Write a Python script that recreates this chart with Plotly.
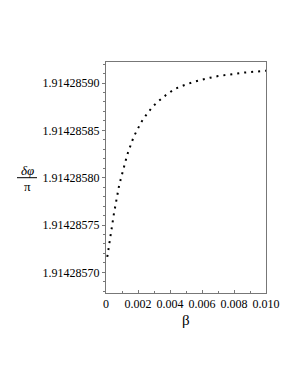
import plotly.graph_objects as go

# beta values (x) and delta-phi/pi values (y)
beta = [0.00008, 0.0002, 0.0003, 0.0004, 0.0005, 0.0006, 0.0007, 0.0008, 0.0009,
        0.0010, 0.0011, 0.0012, 0.0013, 0.0014, 0.0015, 0.0016, 0.0017, 0.0018,
        0.0019, 0.0020, 0.0022, 0.0024, 0.0026, 0.0028, 0.0030, 0.00325, 0.0035,
        0.00375, 0.0040, 0.00425, 0.0045, 0.00475, 0.0050, 0.0055, 0.0060,
        0.0065, 0.0070, 0.0075, 0.0080, 0.0085, 0.0090, 0.0095, 0.0100]
dphi_over_pi = [1.9142857163, 1.9142857280, 1.9142857395, 1.9142857515,
                1.9142857625, 1.9142857725, 1.9142857825, 1.9142857900,
                1.9142857970, 1.9142858040, 1.9142858110, 1.9142858170,
                1.9142858225, 1.9142858278, 1.9142858330, 1.9142858378,
                1.9142858417, 1.9142858455, 1.9142858490, 1.9142858522,
                1.9142858585, 1.9142858638, 1.9142858685, 1.9142858726,
                1.9142858765, 1.9142858805, 1.9142858840, 1.9142858873,
                1.9142858905, 1.9142858932, 1.9142858952, 1.9142858970,
                1.9142858985, 1.9142859013, 1.9142859038, 1.9142859056,
                1.9142859073, 1.9142859087, 1.9142859098, 1.9142859108,
                1.9142859115, 1.9142859122, 1.9142859130]

x_tickvals = [0, 0.002, 0.004, 0.006, 0.008, 0.010]
x_ticktext = ["0", "0.002", "0.004", "0.006", "0.008", "0.010"]

serif = "Liberation Serif"
axis_col = "#777777"

fig = go.Figure()
fig.add_trace(go.Scatter(
    x=beta, y=dphi_over_pi, mode="lines",
    line=dict(color="black", width=2, dash="2px,5px"),
    showlegend=False, hoverinfo="skip",
))

fig.update_layout(
    width=300, height=388,
    margin=dict(l=98, r=42, t=54, b=103),
    paper_bgcolor="white", plot_bgcolor="white",
    font=dict(family=serif, size=12, color="black"),
    xaxis=dict(
        range=[0, 0.010], showgrid=False, zeroline=False,
        tickvals=x_tickvals, ticktext=x_ticktext,
        ticks="inside", ticklen=3, tickcolor=axis_col, tickwidth=1,
        minor=dict(dtick=0.001, ticks="inside", ticklen=2, tickcolor=axis_col),
        showline=True, linecolor=axis_col, linewidth=1, mirror=True,
        tickfont=dict(family=serif, size=12),
    ),
    yaxis=dict(
        range=[1.9142856782, 1.9142859222], showgrid=False, zeroline=False,
        tick0=1.9142857, dtick=5e-8, tickformat=".8f",
        ticks="outside", ticklen=3, tickcolor=axis_col, tickwidth=1,
        minor=dict(dtick=1e-8, ticks="outside", ticklen=2, tickcolor=axis_col),
        showline=True, linecolor=axis_col, linewidth=1, mirror=True,
        tickfont=dict(family=serif, size=12),
    ),
    annotations=[
        dict(text="β", xref="paper", yref="paper", x=(186 - 106) / 160,
             y=(293 - 320) / 231,
             xanchor="center", yanchor="middle", showarrow=False,
             font=dict(family=serif, size=15)),
        dict(text="<i>δφ</i>", xref="paper", yref="paper",
             x=(27 - 106) / 160, y=(293 - 170.5) / 231, xanchor="center",
             yanchor="middle", showarrow=False,
             font=dict(family=serif, size=13)),
        dict(text="π", xref="paper", yref="paper",
             x=(27 - 106) / 160, y=(293 - 186) / 231, xanchor="center",
             yanchor="middle", showarrow=False,
             font=dict(family=serif, size=13)),
    ],
    shapes=[
        dict(type="line", xref="paper", yref="paper",
             x0=(17 - 106) / 160, x1=(37 - 106) / 160,
             y0=(293 - 177.7) / 231, y1=(293 - 177.7) / 231,
             line=dict(color="black", width=1)),
    ],
)

fig.write_html("out.html")
